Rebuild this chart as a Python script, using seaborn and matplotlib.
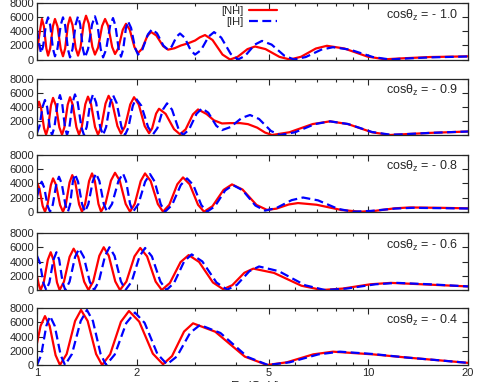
import pandas as pd
import matplotlib
matplotlib.use('Agg')
import matplotlib.pyplot as plt
import seaborn as sns

# ---- values: (energy in GeV, events) ----
labels = ['- 1.0', '- 0.9', '- 0.8', '- 0.6', '- 0.4']

nh_10 = [(1.000, 1200), (1.020, 4000), (1.035, 5770), (1.049, 4730), (1.067, 1590), (1.080, 550),
         (1.096, 1590), (1.117, 4730), (1.133, 5770), (1.153, 4710), (1.179, 1520), (1.198, 460),
         (1.216, 1570), (1.240, 4890), (1.258, 6000), (1.280, 4910), (1.308, 1640), (1.330, 550),
         (1.353, 1690), (1.383, 5090), (1.406, 6230), (1.433, 5120), (1.469, 1810), (1.496, 700),
         (1.529, 1710), (1.572, 4760), (1.605, 5770), (1.640, 4770), (1.686, 1780), (1.720, 780),
         (1.761, 1640), (1.815, 4220), (1.856, 5080), (1.905, 4250), (1.969, 1750), (2.018, 920),
         (2.075, 1520), (2.152, 3320), (2.209, 3920), (2.292, 3420), (2.403, 1900), (2.486, 1400),
         (2.600, 1600), (2.720, 2000), (2.857, 2300), (3.000, 2700), (3.100, 3150), (3.215, 3480),
         (3.387, 2780), (3.631, 700), (3.825, 0), (4.030, 370), (4.320, 1480), (4.551, 1850),
         (4.896, 1480), (5.396, 370), (5.804, 0), (6.268, 390), (6.945, 1560), (7.500, 1950),
         (8.465, 1570), (9.950, 410), (11.23, 30), (12.47, 150), (15.36, 350), (20.0, 450)]
ih_10 = [(1.000, 4200), (1.014, 2400), (1.028, 900), (1.044, 1920), (1.064, 4980), (1.080, 6000),
         (1.096, 4890), (1.117, 1560), (1.133, 450), (1.153, 1560), (1.179, 4890), (1.198, 6000),
         (1.216, 4860), (1.240, 1440), (1.258, 300), (1.280, 1470), (1.308, 4980), (1.330, 6150),
         (1.350, 4980), (1.376, 1470), (1.396, 300), (1.426, 1470), (1.466, 4980), (1.496, 6150),
         (1.522, 4980), (1.557, 1470), (1.583, 300), (1.617, 1420), (1.662, 4780), (1.696, 5900),
         (1.725, 4800), (1.764, 1500), (1.793, 400), (1.820, 1410), (1.855, 4440), (1.882, 5450),
         (1.923, 4500), (1.977, 1650), (2.018, 700), (2.080, 1420), (2.162, 3580), (2.224, 4300),
         (2.303, 3720), (2.407, 1980), (2.486, 1400), (2.551, 1860), (2.637, 3240), (2.702, 3700),
         (2.791, 3100), (2.911, 1300), (3.000, 700), (3.127, 1340), (3.296, 3260), (3.423, 3900),
         (3.598, 3120), (3.846, 780), (4.043, 0), (4.251, 530), (4.544, 2120), (4.778, 2650),
         (5.108, 2120), (5.584, 530), (5.969, 0), (6.474, 350), (7.214, 1400), (7.825, 1750),
         (8.813, 1400), (10.33, 350), (11.63, 0), (12.47, 100), (15.36, 300), (20.0, 430)]

nh_09 = [(1.000, 3800), (1.014, 4760), (1.029, 3820), (1.050, 990), (1.065, 50), (1.081, 1100),
         (1.102, 4250), (1.118, 5300), (1.140, 4250), (1.168, 1100), (1.190, 50), (1.210, 1120),
         (1.238, 4330), (1.258, 5400), (1.282, 4330), (1.315, 1120), (1.339, 50), (1.365, 1140),
         (1.399, 4390), (1.425, 5480), (1.456, 4390), (1.497, 1140), (1.528, 50), (1.563, 1160),
         (1.610, 4490), (1.645, 5600), (1.689, 4520), (1.749, 1280), (1.793, 200), (1.844, 1240),
         (1.912, 4360), (1.963, 5400), (2.028, 4370), (2.114, 1280), (2.179, 250), (2.226, 950),
         (2.288, 3050), (2.335, 3750), (2.445, 3020), (2.592, 830), (2.702, 100), (2.810, 810),
         (2.955, 2940), (3.063, 3650), (3.250, 3000), (3.420, 2100), (3.618, 1650), (3.850, 1700),
         (4.100, 1700), (4.335, 1550), (4.620, 1050), (4.880, 350), (5.122, 0), (5.780, 390),
         (6.791, 1560), (7.664, 1950), (8.686, 1560), (10.26, 390), (11.63, 0), (12.47, 80),
         (15.36, 300), (20.0, 500)]
ih_09 = [(1.000, 300), (1.017, 1240), (1.040, 4060), (1.057, 5000), (1.073, 4000), (1.094, 1000),
         (1.110, 0), (1.129, 1140), (1.154, 4560), (1.173, 5700), (1.191, 4560), (1.214, 1140),
         (1.232, 0), (1.253, 1160), (1.281, 4640), (1.302, 5800), (1.327, 4640), (1.361, 1160),
         (1.386, 0), (1.413, 1160), (1.449, 4640), (1.476, 5800), (1.508, 4640), (1.551, 1160),
         (1.583, 0), (1.617, 1140), (1.662, 4560), (1.696, 5700), (1.740, 4560), (1.799, 1140),
         (1.843, 0), (1.887, 1040), (1.946, 4160), (1.990, 5200), (2.065, 4180), (2.165, 1120),
         (2.240, 100), (2.309, 980), (2.400, 3640), (2.469, 4520), (2.556, 3620), (2.672, 900),
         (2.759, 0), (2.876, 760), (3.032, 3040), (3.149, 3800), (3.290, 3180), (3.477, 1320),
         (3.618, 700), (3.836, 1130), (4.147, 2430), (4.396, 2860), (4.680, 2290), (5.086, 570),
         (5.414, 0), (6.009, 390), (6.906, 1560), (7.664, 1950), (8.686, 1570), (10.26, 430),
         (11.63, 50), (12.47, 80), (15.36, 300), (20.0, 500)]

nh_08 = [(1.000, 4100), (1.017, 3280), (1.040, 820), (1.057, 0), (1.075, 940), (1.101, 3760),
         (1.118, 4700), (1.142, 3760), (1.174, 940), (1.198, 0), (1.222, 1030), (1.254, 4130),
         (1.278, 5160), (1.305, 4130), (1.340, 1030), (1.367, 0), (1.397, 1080), (1.436, 4320),
         (1.466, 5400), (1.495, 4320), (1.533, 1080), (1.561, 0), (1.609, 1100), (1.672, 4390),
         (1.720, 5490), (1.777, 4390), (1.852, 1100), (1.909, 0), (1.972, 1080), (2.056, 4320),
         (2.119, 5400), (2.204, 4320), (2.316, 1080), (2.401, 0), (2.508, 970), (2.652, 3870),
         (2.759, 4840), (2.889, 3870), (3.063, 970), (3.193, 0), (3.385, 770), (3.658, 3080),
         (3.878, 3850), (4.172, 3130), (4.599, 950), (4.947, 250), (5.277, 430), (5.753, 1020),
         (6.137, 1220), (6.984, 980), (8.297, 240), (9.441, 0), (10.48, 120), (12.04, 480),
         (13.36, 600), (16.47, 550), (20.0, 470)]
ih_08 = [(1.000, 2100), (1.015, 3300), (1.033, 4230), (1.052, 3380), (1.076, 850), (1.095, 0),
         (1.116, 990), (1.144, 3940), (1.165, 4930), (1.188, 3940), (1.218, 990), (1.240, 0),
         (1.259, 1060), (1.283, 4240), (1.302, 5300), (1.330, 4240), (1.368, 1060), (1.396, 0),
         (1.429, 1080), (1.474, 4320), (1.507, 5400), (1.543, 4320), (1.591, 1080), (1.627, 0),
         (1.684, 1080), (1.761, 4320), (1.818, 5400), (1.857, 4320), (1.910, 1080), (1.949, 0),
         (2.023, 1060), (2.121, 4240), (2.194, 5300), (2.266, 4240), (2.363, 1060), (2.435, 0),
         (2.556, 940), (2.716, 3760), (2.837, 4700), (2.964, 3760), (3.133, 940), (3.260, 0),
         (3.442, 750), (3.699, 3000), (3.905, 3750), (4.175, 3030), (4.563, 870), (4.878, 150),
         (5.281, 520), (5.870, 1630), (6.354, 2000), (7.052, 1600), (8.103, 400), (8.993, 0),
         (10.19, 110), (12.04, 440), (13.65, 550), (20.0, 450)]

nh_06 = [(1.000, 2000), (1.012, 800), (1.025, 0), (1.048, 1060), (1.078, 4240), (1.100, 5300),
         (1.121, 4240), (1.149, 1060), (1.170, 0), (1.206, 1160), (1.254, 4640), (1.290, 5800),
         (1.332, 4640), (1.388, 1160), (1.430, 0), (1.478, 1200), (1.542, 4800), (1.590, 6000),
         (1.647, 4800), (1.723, 1200), (1.780, 0), (1.861, 1180), (1.969, 4720), (2.050, 5900),
         (2.149, 4720), (2.281, 1180), (2.380, 0), (2.518, 980), (2.713, 3920), (2.870, 4900),
         (3.085, 3940), (3.396, 1060), (3.650, 100), (3.887, 680), (4.226, 2420), (4.500, 3000),
         (5.192, 2400), (6.283, 600), (7.250, 0), (8.369, 200), (10.14, 800), (11.70, 1000),
         (15.36, 750), (20.0, 500)]
ih_06 = [(1.000, 4800), (1.020, 3840), (1.046, 960), (1.066, 0), (1.090, 1060), (1.121, 4240),
         (1.145, 5300), (1.167, 4240), (1.195, 1060), (1.217, 0), (1.254, 1160), (1.303, 4640),
         (1.340, 5800), (1.384, 4640), (1.443, 1160), (1.487, 0), (1.537, 1200), (1.605, 4800),
         (1.655, 6000), (1.714, 4800), (1.792, 1200), (1.850, 0), (1.931, 1180), (2.039, 4720),
         (2.120, 5900), (2.222, 4720), (2.358, 1180), (2.460, 0), (2.593, 1000), (2.780, 4000),
         (2.930, 5000), (3.155, 4010), (3.483, 1040), (3.750, 50), (4.008, 700), (4.379, 2650),
         (4.680, 3300), (5.370, 2640), (6.450, 660), (7.400, 0), (8.597, 200), (10.50, 800),
         (12.20, 1000), (15.36, 800), (20.0, 500)]

nh_04 = [(1.000, 3060), (1.025, 5500), (1.057, 6900), (1.092, 5520), (1.138, 1380), (1.173, 0),
         (1.229, 1550), (1.303, 6210), (1.358, 7760), (1.422, 6210), (1.508, 1550), (1.572, 0),
         (1.663, 1520), (1.792, 6100), (1.895, 7620), (2.035, 6120), (2.237, 1600), (2.401, 100),
         (2.556, 1260), (2.779, 4720), (2.958, 5880), (3.451, 4700), (4.240, 1180), (4.947, 0),
         (5.677, 380), (6.819, 1500), (7.825, 1880), (10.33, 1500), (13.09, 1050), (16.47, 650),
         (20.0, 300)]
ih_04 = [(1.000, 0), (1.029, 1380), (1.067, 5520), (1.095, 6900), (1.131, 5520), (1.179, 1380),
         (1.215, 0), (1.275, 1550), (1.355, 6210), (1.415, 7760), (1.475, 6210), (1.556, 1550),
         (1.616, 0), (1.717, 1480), (1.860, 5920), (1.976, 7400), (2.113, 5940), (2.309, 1560),
         (2.469, 100), (2.645, 1210), (2.899, 4540), (3.105, 5650), (3.578, 4520), (4.322, 1130),
         (4.981, 0), (5.788, 380), (7.071, 1500), (8.216, 1880), (10.33, 1550), (13.09, 1050),
         (16.47, 650), (20.0, 300)]

curves = [(nh_10, ih_10), (nh_09, ih_09), (nh_08, ih_08), (nh_06, ih_06), (nh_04, ih_04)]

frames = []
for lab, (nh, ih) in zip(labels, curves):
    for name, pts in (('[NH]', nh), ('[IH]', ih)):
        d = pd.DataFrame(pts, columns=['E', 'events'])
        d['hier'] = name
        d['cz'] = lab
        frames.append(d)
df = pd.concat(frames, ignore_index=True)

sns.set_style("ticks")
plt.rcParams['font.family'] = ['Liberation Sans', 'DejaVu Sans']
plt.rcParams['mathtext.fontset'] = 'custom'
plt.rcParams['mathtext.rm'] = 'Liberation Sans'
plt.rcParams['mathtext.it'] = 'Liberation Sans'
plt.rcParams['mathtext.default'] = 'regular'

fig = plt.figure(figsize=(4.85, 3.82), dpi=100)

# panel geometry in pixels (top, bottom)
left, width = 37 / 485, 431 / 485
panel_px = [(3.3, 59.5), (79, 135), (155, 211.7), (233, 290), (308.3, 365)]

palette = {'[NH]': '#ff0000', '[IH]': '#0000ff'}
dashes = {'[NH]': '', '[IH]': (4, 2)}

for i, (lab, (top, bot)) in enumerate(zip(labels, panel_px)):
    ax = fig.add_axes([left, 1 - bot / 382, width, (bot - top) / 382])
    sub = df[df['cz'] == lab]
    sns.lineplot(data=sub, x='E', y='events', hue='hier', style='hier',
                 palette=palette, dashes=dashes, estimator=None, sort=False,
                 linewidth=1.6, ax=ax, legend=(i == 0))
    ax.set_xscale('log')
    ax.set_xlim(1, 20)
    ax.set_ylim(0, 8000)
    ax.set_yticks([0, 2000, 4000, 6000, 8000])
    ax.set_xticks([1, 2, 5, 10, 20])
    ax.set_xticks([3, 4, 6, 7, 8, 9], minor=True)
    ax.set_xticklabels(['1', '2', '5', '10', '20'] if i == 4 else [])
    ax.set_xticklabels([], minor=True)
    ax.tick_params(which='both', direction='in', top=True, right=True, labelsize=8, pad=2, width=0.8)
    ax.tick_params(which='major', length=4)
    ax.tick_params(which='minor', length=2)
    ax.set_xlabel('')
    ax.set_ylabel('')
    for s in ax.spines.values():
        s.set_linewidth(0.9)
    ax.text(0.977, 0.79, 'cos$\\theta_z$ = ' + lab, transform=ax.transAxes,
            ha='right', va='center', fontsize=9)
    if i == 0:
        ax.legend(loc='upper right', bbox_to_anchor=(0.557, 0.95), frameon=False,
                  markerfirst=False, handlelength=2.5, handletextpad=0.5,
                  borderpad=0, borderaxespad=0, labelspacing=0.1, fontsize=8)

fig.text(230 / 485, 1 - 379 / 382, 'E$_\\nu$ (GeV)', ha='left', va='top', fontsize=9)

fig.savefig('out.png', dpi=100)
